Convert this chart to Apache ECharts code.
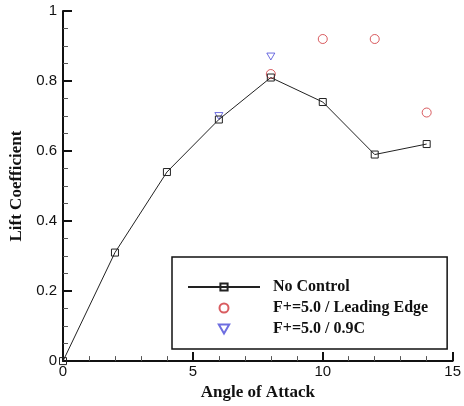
<!DOCTYPE html>
<html>
<head>
<meta charset="utf-8">
<script src="https://cdn.jsdelivr.net/npm/echarts@6/dist/echarts.min.js"></script>
<style>
  html, body { margin: 0; padding: 0; background: #fff; }
  #chart { width: 464px; height: 406px; }
</style>
</head>
<body>
<div id="chart"></div>
<script>
// Lift coefficient versus angle of attack
const angles = [0, 2, 4, 6, 8, 10, 12, 14];
const noControl = [0, 0.31, 0.54, 0.69, 0.81, 0.74, 0.59, 0.62];

const leadingEdgeAngles = [8, 10, 12, 14];
const leadingEdge = [0.82, 0.92, 0.92, 0.71];

const chordAngles = [6, 8];
const chord09 = [0.70, 0.87];

const seriesNames = ['No Control', 'F+=5.0 / Leading Edge', 'F+=5.0 / 0.9C'];

const pairs = (xs, ys) => xs.map((x, i) => [x, ys[i]]);

const serifFont = '"Liberation Serif", "Times New Roman", serif';
const sansFont = '"Liberation Sans", Arial, sans-serif';

// downward-pointing triangle, kept equilateral in plot and legend
const triangleDown = 'path://M0,0L10,0L5,8.66Z';

const chart = echarts.init(document.getElementById('chart'), null, { renderer: 'canvas' });

const axisCommon = {
  axisLine: { show: true, lineStyle: { color: '#111', width: 2 } },
  axisTick: { show: true, inside: true, length: 9, lineStyle: { color: '#111', width: 2 } },
  minorTick: { show: true, length: 5, lineStyle: { color: '#555', width: 1 } },
  splitLine: { show: false },
  axisLabel: { color: '#111', fontFamily: sansFont, fontSize: 15 },
  nameLocation: 'middle',
  nameTextStyle: { color: '#111', fontFamily: serifFont, fontWeight: 'bold', fontSize: 17 }
};

chart.setOption({
  animation: false,
  backgroundColor: '#fff',
  grid: { left: 63, right: 8, top: 11, bottom: 36, containLabel: false },
  xAxis: Object.assign({}, axisCommon, {
    type: 'value', min: 0, max: 15, interval: 5,
    name: 'Angle of Attack', nameGap: 20,
    minorTick: Object.assign({}, axisCommon.minorTick, { splitNumber: 5 }),
    axisLabel: Object.assign({}, axisCommon.axisLabel, { margin: 3 })
  }),
  yAxis: Object.assign({}, axisCommon, {
    type: 'value', min: 0, max: 1, interval: 0.2,
    name: 'Lift Coefficient', nameGap: 35,
    minorTick: Object.assign({}, axisCommon.minorTick, { splitNumber: 4 }),
    axisLabel: Object.assign({}, axisCommon.axisLabel, { margin: 6 })
  }),
  legend: {
    orient: 'vertical',
    left: 172, top: 257,
    padding: [22, 19, 12, 15],
    itemWidth: 72, itemHeight: 9, itemGap: 5,
    borderColor: '#111', borderWidth: 1.5,
    data: seriesNames,
    textStyle: { color: '#111', fontFamily: serifFont, fontWeight: 'bold', fontSize: 16, lineHeight: 16, padding: [0, 0, 0, 8] }
  },
  series: [
    {
      name: seriesNames[0], type: 'line',
      data: pairs(angles, noControl),
      symbol: 'rect', symbolSize: 7, symbolKeepAspect: true,
      lineStyle: { color: '#222', width: 1 },
      itemStyle: { color: 'rgba(255,255,255,0)', borderColor: '#222', borderWidth: 1 },
      z: 3
    },
    {
      name: seriesNames[1], type: 'scatter',
      data: pairs(leadingEdgeAngles, leadingEdge),
      symbol: 'circle', symbolSize: 9, symbolKeepAspect: true,
      itemStyle: { color: 'rgba(255,255,255,0)', borderColor: '#d0343a', borderWidth: 1 },
      z: 2
    },
    {
      name: seriesNames[2], type: 'scatter',
      data: pairs(chordAngles, chord09),
      symbol: triangleDown, symbolSize: 8, symbolKeepAspect: true,
      itemStyle: { color: 'rgba(255,255,255,0)', borderColor: '#4a4ad8', borderWidth: 1 },
      z: 2
    }
  ]
});
</script>
</body>
</html>
